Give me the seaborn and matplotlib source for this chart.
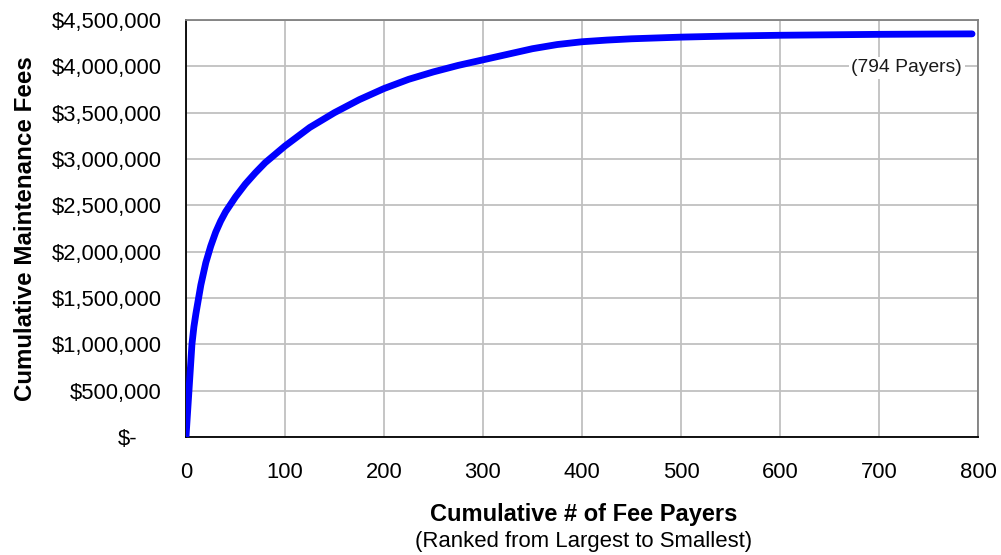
import numpy as np
import pandas as pd
import matplotlib
matplotlib.use("Agg")
import matplotlib.pyplot as plt
import seaborn as sns

# Cumulative maintenance fees by payer rank (largest payer first)
payer_rank = [0, 3, 6, 8, 10, 15, 20, 25, 30, 35, 40, 50, 60, 70, 80, 90,
              100, 125, 150, 175, 200, 225, 250, 275, 300, 325, 350, 375,
              400, 425, 450, 500, 550, 600, 650, 700, 750, 794]
cumulative_fees = [0, 500_000, 1_000_000, 1_190_000, 1_330_000, 1_640_000,
                   1_880_000, 2_060_000, 2_210_000, 2_330_000, 2_430_000,
                   2_590_000, 2_730_000, 2_850_000, 2_960_000, 3_050_000,
                   3_140_000, 3_340_000, 3_500_000, 3_640_000, 3_760_000,
                   3_860_000, 3_940_000, 4_010_000, 4_070_000, 4_130_000,
                   4_190_000, 4_235_000, 4_265_000, 4_283_000, 4_297_000,
                   4_315_000, 4_327_000, 4_335_000, 4_340_000, 4_345_000,
                   4_348_000, 4_350_000]

x_ticks = [0, 100, 200, 300, 400, 500, 600, 700, 800]
y_ticks = [0, 500_000, 1_000_000, 1_500_000, 2_000_000, 2_500_000,
           3_000_000, 3_500_000, 4_000_000, 4_500_000]
y_tick_labels = ["$-", "$500,000", "$1,000,000", "$1,500,000", "$2,000,000",
                 "$2,500,000", "$3,000,000", "$3,500,000", "$4,000,000",
                 "$4,500,000"]
x_title = "Cumulative # of Fee Payers"
x_subtitle = "(Ranked from Largest to Smallest)"
y_title = "Cumulative Maintenance Fees"
end_note = "(794 Payers)"

sns.set_theme(style="white")
plt.rcParams["font.family"] = ["Liberation Sans", "DejaVu Sans"]

df = pd.DataFrame({"rank": payer_rank, "fees": cumulative_fees})

fig = plt.figure(figsize=(10.01, 5.55), dpi=100)
ax = fig.add_axes([0.1858, 0.2126, 0.7912, 0.7514])

ax.grid(True, color="#c0c0c0", linewidth=1.3)
ax.set_axisbelow(True)

sns.lineplot(data=df, x="rank", y="fees", ax=ax, color="#0000ff",
             linewidth=4.9, solid_capstyle="round", solid_joinstyle="round",
             zorder=3)

ax.set_xlim(0, 800)
ax.set_ylim(0, 4_500_000)
ax.set_xticks(x_ticks)
ax.set_xticklabels([str(t) for t in x_ticks])
ax.set_yticks(y_ticks)
ax.set_yticklabels(y_tick_labels)

ax.tick_params(axis="both", direction="in", length=4, width=1.2,
               color="black", labelsize=15.8, labelcolor="black")
ax.tick_params(axis="y", pad=17.3)
ax.tick_params(axis="x", pad=18)
ax.tick_params(axis="x", which="both", top=False)
ax.tick_params(axis="y", which="both", right=False)

# the zero label sits further left, like an accounting format
zero_tick = ax.yaxis.get_major_ticks()[0]
zero_tick.set_pad(35)

for side in ["left", "bottom"]:
    ax.spines[side].set_color("black")
    ax.spines[side].set_linewidth(1.3)
for side in ["top", "right"]:
    ax.spines[side].set_color("#808080")
    ax.spines[side].set_linewidth(1.3)
    ax.spines[side].set_visible(True)

ax.set_xlabel("")
ax.set_ylabel(y_title, fontsize=17.4, fontweight="bold", color="black")
ax.yaxis.set_label_coords(-0.188, 0.5)

fig.text(0.5834, 1 - 514 / 555, x_title, ha="center", va="center",
         fontsize=17.0, fontweight="bold", color="black")
fig.text(0.5834, 1 - 542 / 555, x_subtitle, ha="center", va="center",
         fontsize=15.9, color="black")

ax.text(784, 3_985_000, end_note, ha="right", va="center", fontsize=13.9,
        color="#1a1a1a", zorder=4,
        bbox=dict(facecolor="white", edgecolor="none", pad=2))

fig.savefig("out.png", dpi=100)
